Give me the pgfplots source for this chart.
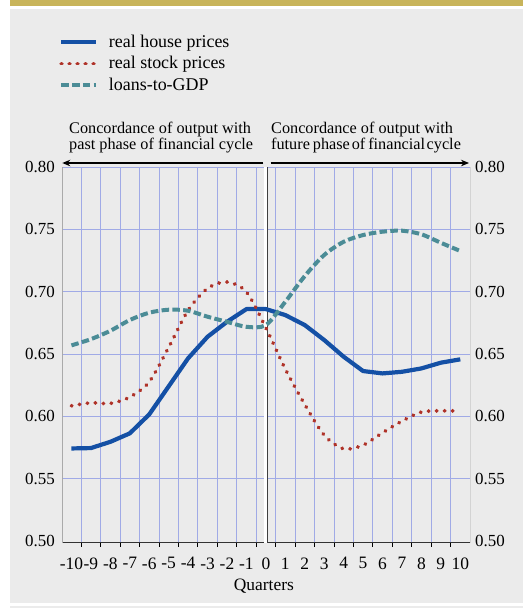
\documentclass[border=0pt]{standalone}
\usepackage{fontspec}
\setmainfont{Liberation Serif}
\usepackage{pgfplots}
\usepackage{pgfplotstable}
\pgfplotsset{compat=1.18}
\usetikzlibrary{arrows.meta}
\definecolor{band}{RGB}{200,180,90}
\definecolor{panel}{RGB}{235,235,235}
\definecolor{gridblue}{RGB}{160,170,230}
\definecolor{houseblue}{RGB}{20,80,165}
\definecolor{stockred}{RGB}{175,50,40}
\definecolor{loanteal}{RGB}{75,140,150}

\pgfplotstableread{
q house stock loans
-10 0.5742 0.6084 0.6569
-9 0.5745 0.6108 0.6619
-8 0.5795 0.6103 0.6686
-7 0.5863 0.6154 0.6772
-6 0.6015 0.6277 0.6831
-5 0.6240 0.6553 0.6855
-4 0.6465 0.6850 0.6847
-3 0.6638 0.7026 0.6799
-2 0.6758 0.7077 0.6758
-1 0.6860 0.6997 0.6718
0 0.6860 0.6710 0.6732
1 0.6812 0.6379 0.6919
2 0.6732 0.6095 0.7125
3 0.6612 0.5849 0.7294
4 0.6478 0.5739 0.7400
5 0.6363 0.5769 0.7454
6 0.6344 0.5868 0.7481
7 0.6357 0.5961 0.7489
8 0.6384 0.6034 0.7460
9 0.6430 0.6044 0.7392
10 0.6457 0.6042 0.7326
}\datatable

\begin{document}
\begin{tikzpicture}
\useasboundingbox (0,0) rectangle (523bp,-608bp);
\fill[white] (0,0) rectangle (523bp,-608bp);
\fill[band] (10bp,0) rectangle (523bp,-5.7bp);
\fill[panel] (10bp,-8.7bp) rectangle (523bp,-602.7bp);
\fill[panel] (10bp,-605.7bp) rectangle (523bp,-608bp);

\begin{axis}[
  at={(62.7bp,-542.8bp)}, anchor=south west,
  scale only axis, width=407.3bp, height=375.8bp,
  xmin=-10.45, xmax=10.5, ymin=0.4985, ymax=0.80,
  axis line style={draw=none},
  xtick={-10,-9,-8,-7,-6,-5,-4,-3,-2,-1,0,1,2,3,4,5,6,7,8,9,10},
  xticklabels={-10,-9,-8,-7,-6,-5,-4,-3,-2,-1,0,1,2,3,4,5,6,7,8,9,10},
  minor xtick={-9.5,-8.5,-7.5,-6.5,-5.5,-4.5,-3.5,-2.5,-1.5,-0.5,0.5,1.5,2.5,3.5,4.5,5.5,6.5,7.5,8.5,9.5},
  xminorgrids=true,
  minor grid style={gridblue, line width=0.8bp},
  ytick={0.55,0.60,0.65,0.70,0.75,0.80},
  yticklabels={0.55,0.60,0.65,0.70,0.75,0.80},
  extra y ticks={0.50}, extra y tick labels={0.50},
  extra y tick style={grid=none},
  ymajorgrids=true,
  major grid style={gridblue, line width=0.8bp},
  major tick length=0pt, minor tick length=4bp,
  xtick align=outside,
  xtick pos=bottom, ytick pos=left,
  major x tick style={draw=none},
  ytick style={draw=none},
  minor x tick style={black, line width=0.8bp},
  xticklabel style={font=\fontsize{17.5}{17.5}\selectfont, inner sep=0pt, anchor=north, yshift=-14.5bp},
  yticklabel style={font=\fontsize{17}{17}\selectfont, inner sep=0pt, anchor=east, xshift=-7.7bp},
  xlabel={Quarters},
  xlabel style={at={(axis description cs:0.494,-0.1256)}, anchor=base, inner sep=0pt, font=\fontsize{17.5}{17.5}\selectfont},
  legend style={at={(axis description cs:-0.0085,1.3512)}, anchor=north west, draw=none, fill=none,
    inner sep=0pt, outer sep=0pt, row sep=7.6bp, column sep=10.5bp,
    font=\fontsize{18}{18}\selectfont, nodes={inner sep=0pt, outer sep=0pt}},
  legend cell align=left,
  legend image code/.code={\draw[#1] (0bp,0bp) -- (35bp,0bp);},
]
\draw[black!80, line width=0.9bp] (rel axis cs:0,1) -- (rel axis cs:0,0) -- (rel axis cs:1,0) -- (rel axis cs:1,1);
\draw[white, line width=2.2bp] ([yshift=-1bp]axis cs:-0.02,0.4985) -- (axis cs:-0.02,0.80);
\draw[black!75, line width=0.8bp] (axis cs:0.075,0.4985) -- (axis cs:0.075,0.80);

\addplot[houseblue, line width=4.2bp, line join=round] table[x=q,y=house]{\datatable};
\addlegendentry{real house prices}
\addplot[stockred, line width=3.8bp, line cap=round, dash pattern=on 0.4bp off 7.6bp, smooth] table[x=q,y=stock]{\datatable};
\addlegendentry{real stock prices}
\addplot[loanteal, line width=4bp, dash pattern=on 7.5bp off 3.3bp, smooth] table[x=q,y=loans]{\datatable};
\addlegendentry{loans-to-GDP}
\end{axis}

\begin{axis}[
  at={(62.7bp,-542.8bp)}, anchor=south west,
  scale only axis, width=407.3bp, height=375.8bp,
  xmin=-10.45, xmax=10.5, ymin=0.4985, ymax=0.80,
  axis line style={draw=none},
  xtick=\empty,
  ytick={0.50,0.55,0.60,0.65,0.70,0.75,0.80},
  yticklabels={0.50,0.55,0.60,0.65,0.70,0.75,0.80},
  major tick length=0pt,
  ytick style={draw=none},
  yticklabel pos=right,
  yticklabel style={font=\fontsize{17}{17}\selectfont, inner sep=0pt, anchor=west, xshift=5bp},
]
\end{axis}

\node[anchor=base west, inner sep=0pt, font=\fontsize{16.3}{16.3}\selectfont] at (69bp,-133.3bp) {Concordance of output with};
\node[anchor=base west, inner sep=0pt, font=\fontsize{16.3}{16.3}\selectfont] at (69bp,-149.6bp) {past phase of financial cycle};
\node[anchor=base west, inner sep=0pt, font=\fontsize{16.3}{16.3}\selectfont] at (271bp,-133.3bp) {Concordance of output with};
\node[anchor=base west, inner sep=0pt, font=\fontsize{16.3}{16.3}\selectfont] at (271bp,-149.6bp) {future\hspace{0.18em}phase\hspace{0.12em}of\hspace{0.18em}financial\hspace{0.1em}cycle};

\draw[black, line width=1.3bp, -{Stealth[length=8bp, width=6.5bp]}] (263.3bp,-163bp) -- (62.3bp,-163bp);
\draw[black, line width=1.3bp, -{Stealth[length=8bp, width=6.5bp]}] (270.7bp,-163bp) -- (469bp,-163bp);
\end{tikzpicture}
\end{document}
